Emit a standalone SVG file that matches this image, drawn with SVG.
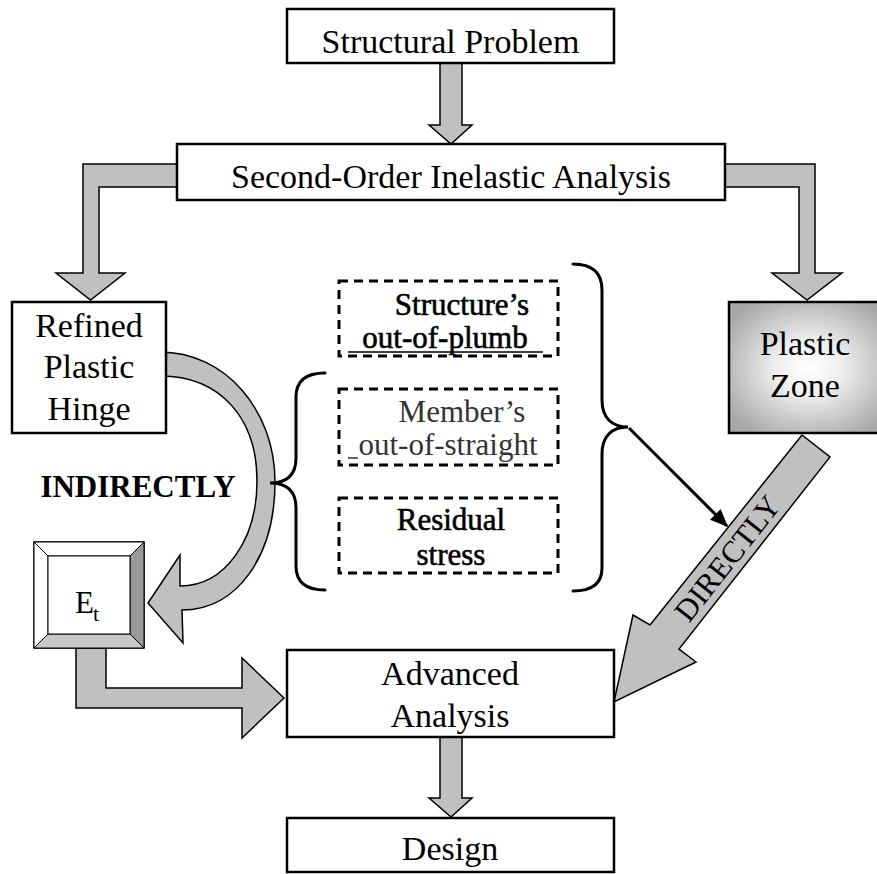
<svg xmlns="http://www.w3.org/2000/svg" width="877" height="874" viewBox="0 0 877 874">
<style>
text{font-family:"Liberation Serif","Times New Roman",serif;fill:#000}
.box{fill:#fff;stroke:#000;stroke-width:2.5}
.arr{fill:#c0c0c0;stroke:#000;stroke-width:1.5;stroke-linejoin:miter}
.dash{fill:none;stroke:#000;stroke-width:3;stroke-dasharray:9 6}
.brace{fill:none;stroke:#000;stroke-width:3;stroke-linecap:round}
.t34{font-size:34px;text-anchor:middle}
.t31{font-size:31px;text-anchor:middle}
.heavy{stroke:#000;stroke-width:0.6}
.bev{stroke:#000;stroke-width:1}
</style>
<defs>
<radialGradient id="pz" cx="0.5" cy="0.5" r="0.6">
<stop offset="0" stop-color="#ffffff"/>
<stop offset="0.35" stop-color="#eeeeee"/>
<stop offset="1" stop-color="#a8a8a8"/>
</radialGradient>
<marker id="ah" markerWidth="6" markerHeight="5" refX="5.5" refY="2.5" orient="auto" markerUnits="strokeWidth">
<path d="M0,0 L6,2.5 L0,5 Z" fill="#000"/>
</marker>
</defs>

<g id="connectors">
<path class="arr" d="M440,63 L462,63 L462,125 L472,125 L451,144 L429,125 L440,125 Z"/>
<path class="arr" d="M177,164 L83,164 L83,273 L56,273 L90.5,300 L125,273 L99,273 L99,187 L177,187 Z"/>
<path class="arr" d="M725,164 L815,164 L815,273 L842,273 L807,300 L772,273 L799,273 L799,187 L725,187 Z"/>
<path class="arr" d="M160,352 C225,352 275,410 275,482 C275,555 238,610 182,610 L183,643 L148,603 L180,555 L180,586 C225,586 257,540 257,481 C257,420 222,376 160,376 Z"/>
<path class="arr" d="M76,648 L76,708 L242,708 L242,738 L284,698 L242,658 L242,688 L106,688 L106,648 Z"/>
<path class="arr" d="M440,737 L462,737 L462,798 L472,798 L451,817 L429,798 L440,798 Z"/>
<path class="arr" d="M802,435 L830,457 L679,649 L696,662 L614,702 L633,615 L650,625 Z"/>
<text transform="translate(727,558) rotate(-51.6)" x="0" y="11" font-size="31" text-anchor="middle">DIRECTLY</text>
<path class="brace" d="M325,373 C306,373 296,381 296,397 L296,458 C296,474 288,483 270,483 C288,483 296,492 296,508 L296,566 C296,582 306,590 325,590"/>
<path class="brace" d="M573,264 C592,264 602,272 602,290 L602,400 C602,418 612,427 628,427 C612,427 602,436 602,454 L602,568 C602,584 592,591 573,591"/>
<line x1="629" y1="428" x2="727" y2="526" stroke="#000" stroke-width="3" marker-end="url(#ah)"/>
</g>

<g id="structural-problem">
<rect class="box" x="287" y="9" width="327" height="54"/>
<text class="t34" x="450.5" y="53">Structural Problem</text>
</g>

<g id="second-order">
<rect class="box" x="177" y="144" width="548" height="56"/>
<text class="t34" x="451" y="188">Second-Order Inelastic Analysis</text>
</g>

<g id="refined-plastic-hinge">
<rect class="box" x="12" y="302" width="154" height="131"/>
<text class="t34" x="89" y="337">Refined</text>
<text class="t34" x="89" y="378">Plastic</text>
<text class="t34" x="89" y="420">Hinge</text>
</g>

<g id="plastic-zone">
<rect x="729" y="302" width="160" height="131" fill="url(#pz)" stroke="#000" stroke-width="2.5"/>
<text class="t34" x="805" y="355">Plastic</text>
<text class="t34" x="805" y="397">Zone</text>
</g>

<g id="indirectly">
<text x="138" y="497" font-size="31" font-weight="bold" text-anchor="middle">INDIRECTLY</text>
</g>

<g id="et">
<rect x="34" y="542" width="110" height="106" fill="#fff" stroke="#000" stroke-width="1.5"/>
<path class="bev" d="M34,542 L144,542 L130,556 L48,556 Z" fill="#ffffff"/>
<path class="bev" d="M34,542 L48,556 L48,634 L34,648 Z" fill="#ffffff"/>
<path class="bev" d="M144,542 L144,648 L130,634 L130,556 Z" fill="#999999"/>
<path class="bev" d="M34,648 L48,634 L130,634 L144,648 Z" fill="#c8c8c8"/>
<rect x="48" y="556" width="82" height="78" fill="#fff" stroke="#000" stroke-width="1"/>
<text x="75" y="613" font-size="31">E</text>
<text x="93" y="621" font-size="22">t</text>
</g>

<g id="structure-out-of-plumb">
<rect class="dash" x="339" y="281" width="219" height="75"/>
<text class="t31 heavy" x="462" y="315">Structure’s</text>
<text class="t31 heavy" x="445" y="348">out-of-plumb</text>
<line x1="348" y1="352" x2="543" y2="352" stroke="#000" stroke-width="1.6"/>
</g>

<g id="member-out-of-straight">
<rect class="dash" x="339" y="389" width="219" height="76"/>
<text class="t31" x="462" y="422" fill="#333" style="fill:#333">Member’s</text>
<text class="t31" x="448" y="455" style="fill:#333">out-of-straight</text>
<line x1="348" y1="458" x2="358" y2="458" stroke="#333" stroke-width="1.5"/>
</g>

<g id="residual-stress">
<rect class="dash" x="339" y="498" width="219" height="75"/>
<text class="t31 heavy" x="451" y="530">Residual</text>
<text class="t31 heavy" x="451" y="565">stress</text>
</g>

<g id="advanced-analysis">
<rect class="box" x="287" y="650" width="327" height="87"/>
<text class="t34" x="450" y="685">Advanced</text>
<text class="t34" x="450" y="727">Analysis</text>
</g>

<g id="design">
<rect class="box" x="287" y="818" width="327" height="54"/>
<text class="t34" x="450" y="860">Design</text>
</g>
</svg>
